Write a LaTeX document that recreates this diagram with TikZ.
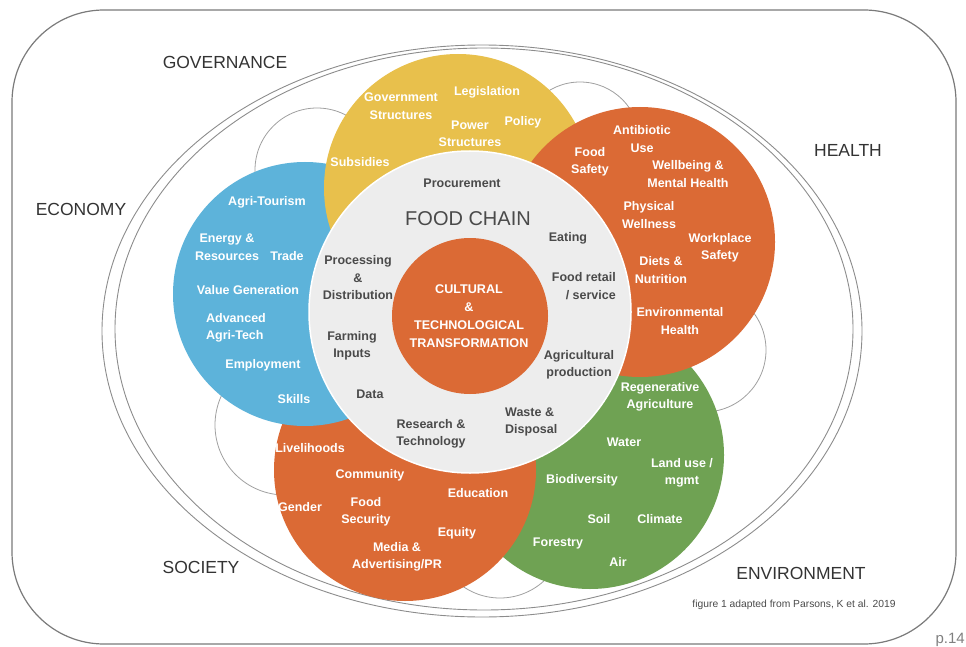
\documentclass[tikz,border=0pt]{standalone}
\usepackage{fontspec}
\setmainfont{Liberation Sans}
\usetikzlibrary{shapes.geometric}
\definecolor{cyellow}{HTML}{E8C04C}
\definecolor{cblue}{HTML}{5DB3DA}
\definecolor{corange}{HTML}{DB6A35}
\definecolor{cgreen}{HTML}{6FA253}
\definecolor{cgray}{HTML}{EDEDED}
\definecolor{fcdark}{HTML}{4A4A4A}
\definecolor{regiondark}{HTML}{333333}
\definecolor{linegray}{HTML}{8C8C8C}
\definecolor{arcgray}{HTML}{A0A0A0}
\definecolor{framegray}{HTML}{7A7A7A}
\tikzset{
 petal/.style={circle, inner sep=0pt, draw=none},
 bgcirc/.style={circle, inner sep=0pt, draw=arcgray, line width=0.8pt, fill=white},
 ringline/.style={ellipse, inner sep=0pt, draw=linegray, line width=0.9pt},
 wlab/.style={text=white, font=\bfseries\fontsize{12.5}{17.5}\selectfont, align=center, inner sep=0pt},
 dlab/.style={text=fcdark, font=\bfseries\fontsize{12.5}{17.5}\selectfont, align=center, inner sep=0pt},
 region/.style={text=regiondark, font=\fontsize{17.5}{20}\selectfont, inner sep=0pt},
}
\begin{document}
\begin{tikzpicture}[x=1pt,y=-1pt]
\useasboundingbox (0,0) rectangle (966,647);
% frame
\node[draw=framegray, line width=1.2pt, rounded corners=92pt, minimum width=944pt, minimum height=634pt, inner sep=0pt] (frame) at (484,327) {};
% system ellipses
\node[ringline, minimum width=760pt, minimum height=572pt] (ellout) at (482,331) {};
\node[ringline, minimum width=738pt, minimum height=562pt] (ellin) at (484,329) {};
% background white circles
\node[bgcirc, minimum size=124pt] (bgA) at (317,170) {};
\node[bgcirc, minimum size=120pt] (bgB) at (580,142) {};
\node[bgcirc, minimum size=124pt] (bgC) at (704,350) {};
\node[bgcirc, minimum size=130pt] (bgD) at (500,533) {};
\node[bgcirc, minimum size=140pt] (bgE) at (285,425) {};
% coloured circles
\node[petal, fill=cgreen, minimum size=268pt] (env) at (590,455) {};
\node[petal, fill=corange, minimum size=262pt] (soc) at (405,470) {};
\node[petal, fill=cblue, minimum size=264pt] (eco) at (305,294) {};
\node[petal, fill=cyellow, minimum size=268pt] (gov) at (458,188) {};
\node[petal, fill=corange, minimum size=270pt] (hea) at (640,242) {};
\node[circle, inner sep=0pt, fill=cgray, draw=white, line width=1.5pt, minimum size=322pt] (chain) at (470,312) {};
\node[petal, fill=corange, minimum size=156pt] (core) at (470,316) {};
% region labels
\node[region] (lgov) at (225,62) {GOVERNANCE};
\node[region] (leco) at (81,209) {ECONOMY};
\node[region] (lhea) at (848,150) {HEALTH};
\node[region] (lsoc) at (201,567) {SOCIETY};
\node[region] (lenv) at (801,573) {ENVIRONMENT};
\node[text=fcdark, font=\fontsize{10.3}{12}\selectfont, inner sep=0pt] (credit) at (794,605) {figure 1 adapted from Parsons, K et al. 2019};
\node[text=gray, font=\fontsize{15}{18}\selectfont, inner sep=0pt, anchor=base east] (page) at (965,643) {p.14};
% food chain
\node[dlab] (fc0) at (462,183) {Procurement};
\node[text=fcdark, font=\fontsize{20}{24}\selectfont, inner sep=0pt] (fctitle) at (468,219) {FOOD CHAIN};
\node[dlab] (fc1) at (568,238) {Eating};
\node[dlab, align=right, anchor=east] (fc2) at (616,286) {Food retail\\/ service};
\node[dlab] (fc3) at (579,365) {Agricultural\\production};
\node[dlab, align=left, anchor=west] (fc4) at (505,422) {Waste \&\\Disposal};
\node[dlab] (fc5) at (431,434) {Research \&\\Technology};
\node[dlab] (fc6) at (370,394) {Data};
\node[dlab] (fc7) at (352,346) {Farming\\Inputs};
\node[dlab] (fc8) at (358,278) {Processing\\\&\\Distribution};
\node[wlab, font=\bfseries\fontsize{12.6}{18}\selectfont] (corel) at (469,316) {CULTURAL\\\&\\TECHNOLOGICAL\\TRANSFORMATION};
% governance
\node[wlab] (g1) at (401,106) {Government\\Structures};
\node[wlab] (g2) at (487,92) {Legislation};
\node[wlab] (g3) at (470,134) {Power\\Structures};
\node[wlab] (g4) at (523,122) {Policy};
\node[wlab] (g5) at (360,162) {Subsidies};
% health
\node[wlab] (h1) at (590,162) {Food\\Safety};
\node[wlab] (h2) at (642,139) {Antibiotic\\Use};
\node[wlab] (h3) at (688,174) {Wellbeing \&\\Mental Health};
\node[wlab] (h4) at (649,215) {Physical\\Wellness};
\node[wlab] (h5) at (720,248) {Workplace\\Safety};
\node[wlab] (h6) at (661,270) {Diets \&\\Nutrition};
\node[wlab] (h7) at (680,321) {Environmental\\Health};
% economy
\node[wlab] (e1) at (267,202) {Agri-Tourism};
\node[wlab] (e2) at (227,247) {Energy \&\\Resources};
\node[wlab] (e3) at (287,256) {Trade};
\node[wlab] (e4) at (248,290) {Value Generation};
\node[wlab, align=left] (e5) at (236,328) {Advanced\\Agri-Tech};
\node[wlab] (e6) at (263,365) {Employment};
\node[wlab] (e7) at (294,399) {Skills};
% society
\node[wlab] (s1) at (310,448) {Livelihoods};
\node[wlab] (s2) at (370,475) {Community};
\node[wlab] (s3) at (478,493) {Education};
\node[wlab] (s4) at (300,507) {Gender};
\node[wlab] (s5) at (366,512) {Food\\Security};
\node[wlab] (s6) at (457,533) {Equity};
\node[wlab] (s7) at (397,557) {Media \&\\Advertising/PR};
% environment
\node[wlab] (v1) at (660,397) {Regenerative\\Agriculture};
\node[wlab] (v2) at (624,442) {Water};
\node[wlab] (v3) at (682,473) {Land use /\\mgmt};
\node[wlab] (v4) at (582,480) {Biodiversity};
\node[wlab] (v5) at (599,519) {Soil};
\node[wlab] (v6) at (660,519) {Climate};
\node[wlab] (v7) at (558,543) {Forestry};
\node[wlab] (v8) at (618,562) {Air};
\end{tikzpicture}
\end{document}
